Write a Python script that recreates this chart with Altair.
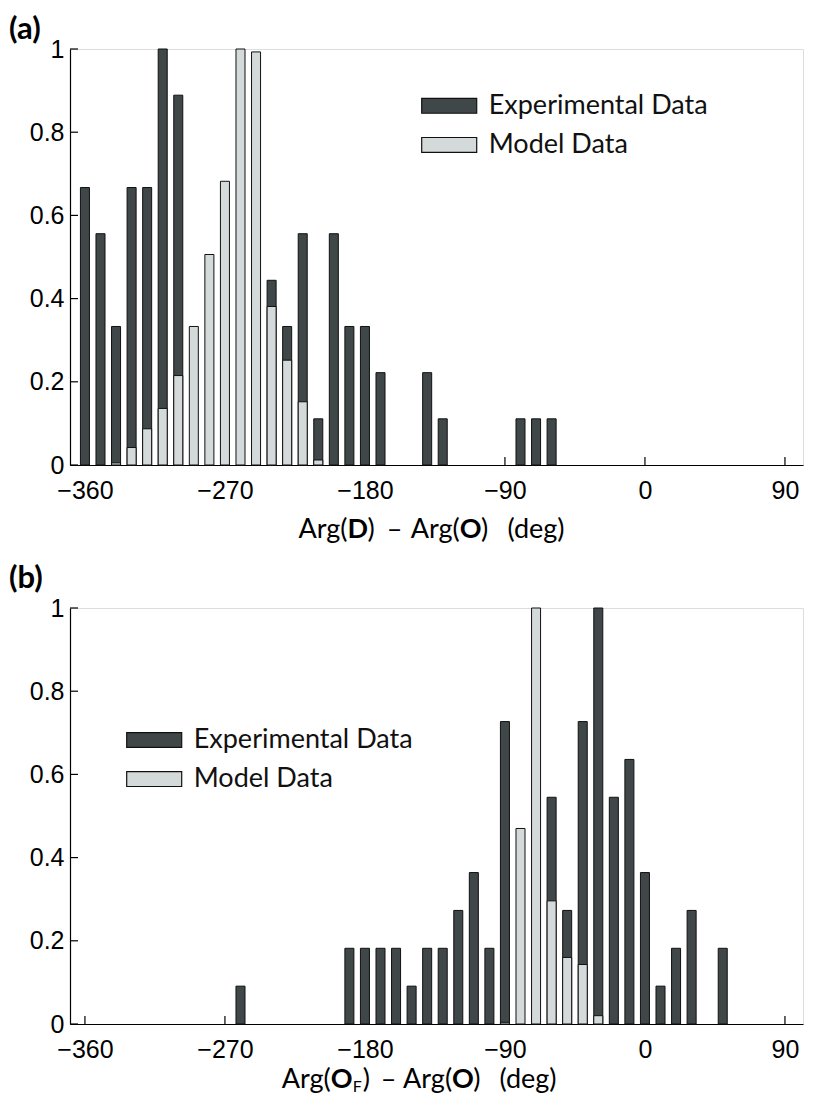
import altair as alt
import pandas as pd

# ---------------- data ----------------
bins_a = list(range(-360, -50, 10))
experimental_a = [0.667, 0.556, 0.333, 0.667, 0.667, 1.0, 0.889, 0, 0, 0, 0, 0,
                  0.444, 0.333, 0.556, 0.111, 0.556, 0.333, 0.333, 0.222, 0, 0,
                  0.222, 0.111, 0, 0, 0, 0, 0.111, 0.111, 0.111]
model_a = [0, 0, 0.005, 0.042, 0.087, 0.136, 0.215, 0.333, 0.506, 0.682, 1.0, 0.993,
           0.381, 0.252, 0.152, 0.012, 0, 0, 0, 0, 0, 0, 0, 0, 0, 0, 0, 0, 0, 0, 0]

bins_b = list(range(-260, 60, 10))
experimental_b = [0.091, 0, 0, 0, 0, 0, 0, 0.182, 0.182, 0.182, 0.182, 0.091, 0.182,
                  0.182, 0.273, 0.364, 0.182, 0.727, 0, 0, 0.545, 0.273, 0.727, 1.0,
                  0.545, 0.636, 0.364, 0.091, 0.182, 0.273, 0, 0.182]
model_b = [0, 0, 0, 0, 0, 0, 0, 0, 0, 0, 0, 0, 0, 0, 0, 0, 0, 0.004, 0.47, 1.0, 0.296,
           0.16, 0.143, 0.02, 0, 0, 0, 0, 0, 0, 0, 0]

series_names = ["Experimental Data", "Model Data"]
x_tick_values = [-360, -270, -180, -90, 0, 90]
y_tick_values = [0, 0.2, 0.4, 0.6, 0.8, 1]

# ---------------- style ----------------
DARK = "#3f4748"
LIGHT = "#d4dad9"
XMIN, XMAX = -369.6, 101.6
HALF = 2.9
W, H = 733, 416
TICK_FONT = "Liberation Sans"
TEXT_FONT = "Lato"
TITLE_SIZE = 27
LEG_SIZE = 27


def long_table(bins, exp, mod):
    rows = []
    for b, e, m in zip(bins, exp, mod):
        rows.append({"bin": b, "series": series_names[0], "value": e})
        rows.append({"bin": b, "series": series_names[1], "value": m})
    return pd.DataFrame(rows)


def text_layer(rows, weight, size, align):
    d = pd.DataFrame(rows, columns=["t", "px", "py"])
    return alt.Chart(d).mark_text(
        font=TEXT_FONT, fontWeight=weight, fontSize=size, align=align,
        baseline="alphabetic", color="black").encode(
        text="t:N", x=alt.X("px:Q", scale=None), y=alt.Y("py:Q", scale=None))


def panel(df, label, label_xy, title_layers, legend_xy):
    xs = alt.Scale(domain=[XMIN, XMAX], nice=False, zero=False)
    ys = alt.Scale(domain=[0, 1], nice=False, zero=False)
    color = alt.Color(
        "series:N",
        scale=alt.Scale(domain=series_names, range=[DARK, LIGHT]),
        legend=alt.Legend(
            title=None, orient="none", legendX=legend_xy[0], legendY=legend_xy[1],
            symbolType="M-2,-0.54L2,-0.54L2,0.54L-2,0.54Z", symbolSize=756.25,
            symbolStrokeColor="#111", symbolStrokeWidth=1.2, symbolOpacity=1,
            labelFont=TEXT_FONT, labelFontSize=LEG_SIZE, labelColor="#111",
            labelOffset=25, rowPadding=11.1, padding=0, labelLimit=400,
        ),
    )
    x_axis = alt.Axis(values=x_tick_values, format="d", labelFont=TICK_FONT,
                      labelFontSize=25, labelColor="black", ticks=False, tickSize=0,
                      labelPadding=13, domainColor="black", domainWidth=1.2,
                      grid=False, title=None, labelFlush=False, labelOverlap=False)
    y_axis = alt.Axis(values=y_tick_values, format=".1~f", labelFont=TICK_FONT,
                      labelFontSize=25, labelColor="black", ticks=False, tickSize=0,
                      labelPadding=6, labelOffset=0, domainColor="black",
                      domainWidth=1.2, grid=False, title=None, labelFlush=False,
                      labelOverlap=False)

    # inward tick marks
    xt = alt.Chart(pd.DataFrame({"t": x_tick_values})).mark_rule(
        color="black", strokeWidth=1.2).encode(
        x=alt.X("t:Q", scale=xs, axis=x_axis), y=alt.value(H), y2=alt.value(H - 8))
    yt = alt.Chart(pd.DataFrame({"t": y_tick_values})).mark_rule(
        color="black", strokeWidth=1.2).encode(
        y=alt.Y("t:Q", scale=ys, axis=y_axis), x=alt.value(0), x2=alt.value(8))

    base = alt.Chart(df).transform_filter("datum.value > 0").transform_calculate(
        lo=f"datum.bin - {HALF}", hi=f"datum.bin + {HALF}")
    enc = dict(x=alt.X("lo:Q", scale=xs, axis=x_axis), x2="hi:Q",
               y=alt.Y("value:Q", scale=ys, axis=y_axis), y2=alt.datum(0),
               color=color)
    dark = base.transform_filter(f"datum.series == '{series_names[0]}'").mark_bar(
        stroke="#111", strokeWidth=1, opacity=1).encode(**enc)
    light = base.transform_filter(f"datum.series == '{series_names[1]}'").mark_bar(
        stroke="#111", strokeWidth=1, opacity=1).encode(**enc)

    lab = text_layer([[label, label_xy[0], label_xy[1]]], "bold", 31, "left")

    return alt.layer(xt, yt, dark, light, lab, *title_layers).properties(width=W, height=H)


df_a = long_table(bins_a, experimental_a, model_a)
df_b = long_table(bins_b, experimental_b, model_b)

# axis title a: Arg(D) – Arg(O) (deg)   (D and O bold)
ya = 488.7
title_a = [
    text_layer([["Arg(", 277.5, ya], ["Arg(", 389.8, ya]], "normal", TITLE_SIZE, "right"),
    text_layer([["D", 277.5, ya], ["O", 389.8, ya]], "bold", TITLE_SIZE, "left"),
    text_layer([[")", 297.6, ya], [")", 411, ya]], "normal", TITLE_SIZE, "left"),
    text_layer([["\u2013", 324.5, ya], ["(deg)", 466, ya]], "normal", TITLE_SIZE, "center"),
]
# axis title b: Arg(O_F) – Arg(O) (deg)
yb = 479.5
title_b = [
    text_layer([["Arg(", 260.8, yb], ["Arg(", 382.1, yb]], "normal", TITLE_SIZE, "right"),
    text_layer([["O", 260.8, yb], ["O", 382.1, yb]], "bold", TITLE_SIZE, "left"),
    text_layer([["F", 282.8, yb + 4.5]], "normal", 16, "left"),
    text_layer([[")", 292.8, yb], [")", 403.2, yb]], "normal", TITLE_SIZE, "left"),
    text_layer([["\u2013", 318.5, yb], ["(deg)", 458, yb]], "normal", TITLE_SIZE, "center"),
]

panel_a = panel(df_a, "(a)", (-61, -10), title_a, (364.7, 42.3))
panel_b = panel(df_b, "(b)", (-61, -20), title_b, (69.7, 117.5))

chart = alt.vconcat(panel_a, panel_b, spacing=18).resolve_legend(
    color="independent").properties(padding={"left": 0, "top": 5, "right": 0, "bottom": 0}
).configure_view(stroke=None).configure(background="white")

chart.save("out.html", embed_options={"renderer": "svg", "actions": False})
